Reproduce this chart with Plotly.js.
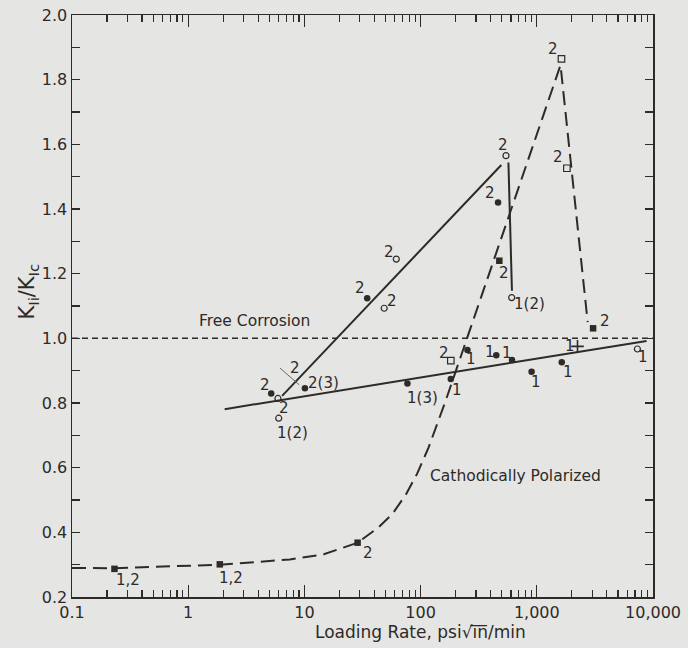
<!DOCTYPE html>
<html>
<head>
<meta charset="utf-8">
<script src="https://cdn.plot.ly/plotly-3.0.1.min.js"></script>
<style>
  html, body { margin: 0; padding: 0; background: #e5e5e3; }
  #chart { width: 688px; height: 648px; }
</style>
</head>
<body>
<div id="chart"></div>
<script>
// ---------- tick labels ----------
const xTickVals = [0.1, 1, 10, 100, 1000, 10000];
const xTickText = ['0.1', '1', '10', '100', '1,000', '10,000'];

// ---------- lines ----------
// Cathodically polarized (long dashes)
const cathX = [0.1, 0.232, 1.87, 7.5, 14.7, 28.7, 43, 57, 75, 93, 117, 135, 164, 1600, 2740];
const cathY = [0.290, 0.289, 0.300, 0.316, 0.332, 0.368, 0.414, 0.456, 0.518, 0.580, 0.662, 0.724, 0.806, 1.845, 1.050];
// Free corrosion reference (short dashes)
const freeX = [0.1, 10000];
const freeY = [1.0, 1.0];
// solid fit line, lower
const lowX = [2.06, 8800];
const lowY = [0.781, 0.992];
// solid rising line and its drop
const riseX = [6.43, 495];
const riseY = [0.822, 1.536];
const dropX = [570, 611];
const dropY = [1.544, 1.147];
// short leader line near "2"
const leadX = [6.17, 9.04];
const leadY = [0.908, 0.856];

// ---------- points ----------
const fcX = [34.7, 464, 5.18, 10.1, 77, 182, 253, 448, 612, 902, 1640];
const fcY = [1.124, 1.420, 0.829, 0.846, 0.860, 0.874, 0.964, 0.948, 0.933, 0.897, 0.926];
const fcLab = ['2', '2', '2', '2(3)', '1(3)', '1', '1', '1', '1', '1', '1'];

const ocX = [5.92, 6.01, 48.6, 61.8, 543, 608, 7340];
const ocY = [0.814, 0.753, 1.093, 1.245, 1.565, 1.126, 0.967];
const ocLab = ['', '2', '2', '2', '2', '1(2)', '1'];
const ocLab2 = ['', '1(2)', '', '', '', '', ''];

const osX = [1630, 1815, 182];
const osY = [1.864, 1.526, 0.931];
const osLab = ['2', '2', '2'];

const fsX = [0.232, 1.87, 28.7, 476, 3050];
const fsY = [0.287, 0.301, 0.368, 1.240, 1.031];
const fsLab = ['1,2', '1,2', '2', '2', '2'];

const plX = [2240];
const plY = [0.975];
const plLab = ['1'];

// label offsets in pixels [dx, dy(down)]
const fcOff = [[-7,-10],[-8,-10],[-6,-9],[19,-5],[15,14],[6,11],[4,9],[-6,-3],[-5,-7],[4,10],[6,10]];
const ocOff = [[0,0],[5,-10],[8,-7],[-7,-7],[-3,-11],[18,6],[6,8]];
const ocOff2 = [[0,0],[14,15],[0,0],[0,0],[0,0],[0,0],[0,0]];
const osOff = [[-8,-10],[-9,-11],[-7,-8]];
const fsOff = [[14,11],[11,14],[10,10],[5,12],[12,-7]];
const plOff = [[-8,0]];

const ink = '#2e2a28';
const bg = '#e5e5e3';
const fnt = 'DejaVu Sans, Arial, sans-serif';

const minorX = [];
[0.1, 1, 10, 100, 1000].forEach(d => { for (let k = 2; k <= 9; k++) minorX.push(d * k); });

const traces = [
  {x: freeX, y: freeY, mode: 'lines', line: {color: ink, width: 1.5, dash: '6px,4px'}},
  {x: cathX, y: cathY, mode: 'lines', line: {color: ink, width: 2, dash: '14px,7px'}},
  {x: lowX, y: lowY, mode: 'lines', line: {color: ink, width: 2}},
  {x: riseX, y: riseY, mode: 'lines', line: {color: ink, width: 2}},
  {x: dropX, y: dropY, mode: 'lines', line: {color: ink, width: 2}},
  {x: leadX, y: leadY, mode: 'lines', line: {color: '#6a6462', width: 1}},
  {x: fcX, y: fcY, mode: 'markers', marker: {symbol: 'circle', size: 6.5, color: ink}},
  {x: ocX, y: ocY, mode: 'markers', marker: {symbol: 'circle-open', size: 6, color: ink, line: {width: 1.2, color: ink}}},
  {x: osX, y: osY, mode: 'markers', marker: {symbol: 'square-open', size: 6.5, color: ink, line: {width: 1.2, color: ink}}},
  {x: fsX, y: fsY, mode: 'markers', marker: {symbol: 'square', size: 6.5, color: ink}},
  {x: plX, y: plY, mode: 'markers', marker: {symbol: 'cross-thin-open', size: 9, color: ink, line: {width: 1.6, color: ink}}}
];

const annotations = [];
function addLabels(xs, ys, labs, offs) {
  xs.forEach((x, i) => {
    if (!labs[i]) return;
    annotations.push({
      x: Math.log10(x), y: ys[i], xref: 'x', yref: 'y', text: labs[i], showarrow: false,
      xshift: offs[i][0], yshift: -offs[i][1],
      font: {family: fnt, size: 15, color: ink}
    });
  });
}
addLabels(fcX, fcY, fcLab, fcOff);
addLabels(ocX, ocY, ocLab, ocOff);
addLabels(ocX, ocY, ocLab2, ocOff2);
addLabels(osX, osY, osLab, osOff);
addLabels(fsX, fsY, fsLab, fsOff);
addLabels(plX, plY, plLab, plOff);
// label beside the leader line
annotations.push({x: Math.log10(leadX[0]), y: leadY[0], xref: 'x', yref: 'y', text: '2', showarrow: false,
  xshift: 15, yshift: 0, font: {family: fnt, size: 15, color: ink}});

annotations.push({x: Math.log10(3.70), y: 1.054, xref: 'x', yref: 'y', text: 'Free Corrosion', showarrow: false,
  font: {family: fnt, size: 15.5, color: ink}});
annotations.push({x: Math.log10(662), y: 0.574, xref: 'x', yref: 'y', text: 'Cathodically Polarized', showarrow: false,
  font: {family: fnt, size: 15.5, color: ink}});

// axis titles
annotations.push({x: 0.60, y: -0.060, xref: 'paper', yref: 'paper', yanchor: 'middle', showarrow: false,
  text: 'Loading Rate, psi\u221Ai\u0305n\u0305/min', font: {family: fnt, size: 17, color: ink}});
annotations.push({x: -0.075, y: 0.524, xref: 'paper', yref: 'paper', xanchor: 'center', yanchor: 'middle', showarrow: false,
  textangle: -90, text: 'K<sub>Ii</sub>/K<sub>Ic</sub>', font: {family: fnt, size: 21, color: ink}});

const layout = {
  width: 688, height: 648,
  margin: {l: 72, r: 35, t: 15, b: 51},
  paper_bgcolor: bg, plot_bgcolor: bg,
  showlegend: false,
  font: {family: fnt, color: ink},
  xaxis: {
    type: 'log', range: [-1, 4],
    tickmode: 'array', tickvals: xTickVals, ticktext: xTickText,
    ticks: 'inside', ticklen: 12, tickwidth: 1.3, tickcolor: ink,
    minor: {tickmode: 'array', tickvals: minorX, ticks: 'inside', ticklen: 7, tickwidth: 1.2, tickcolor: ink, showgrid: false},
    showline: true, linecolor: ink, linewidth: 1.5, mirror: 'allticks',
    showgrid: false, zeroline: false,
    tickfont: {family: fnt, size: 16, color: ink}
  },
  yaxis: {
    range: [0.2, 2.0], dtick: 0.2, tick0: 0.2, tickformat: '.1f',
    ticks: 'inside', ticklen: 8, tickwidth: 1.3, tickcolor: ink,
    minor: {dtick: 0.1, tick0: 0.1, ticks: 'inside', ticklen: 8, tickwidth: 1.2, tickcolor: ink, showgrid: false},
    showline: true, linecolor: ink, linewidth: 1.5, mirror: 'allticks',
    showgrid: false, zeroline: false,
    tickfont: {family: fnt, size: 16, color: ink}
  },
  annotations: annotations
};

Plotly.newPlot('chart', traces, layout, {staticPlot: true, displayModeBar: false});
</script>
</body>
</html>
